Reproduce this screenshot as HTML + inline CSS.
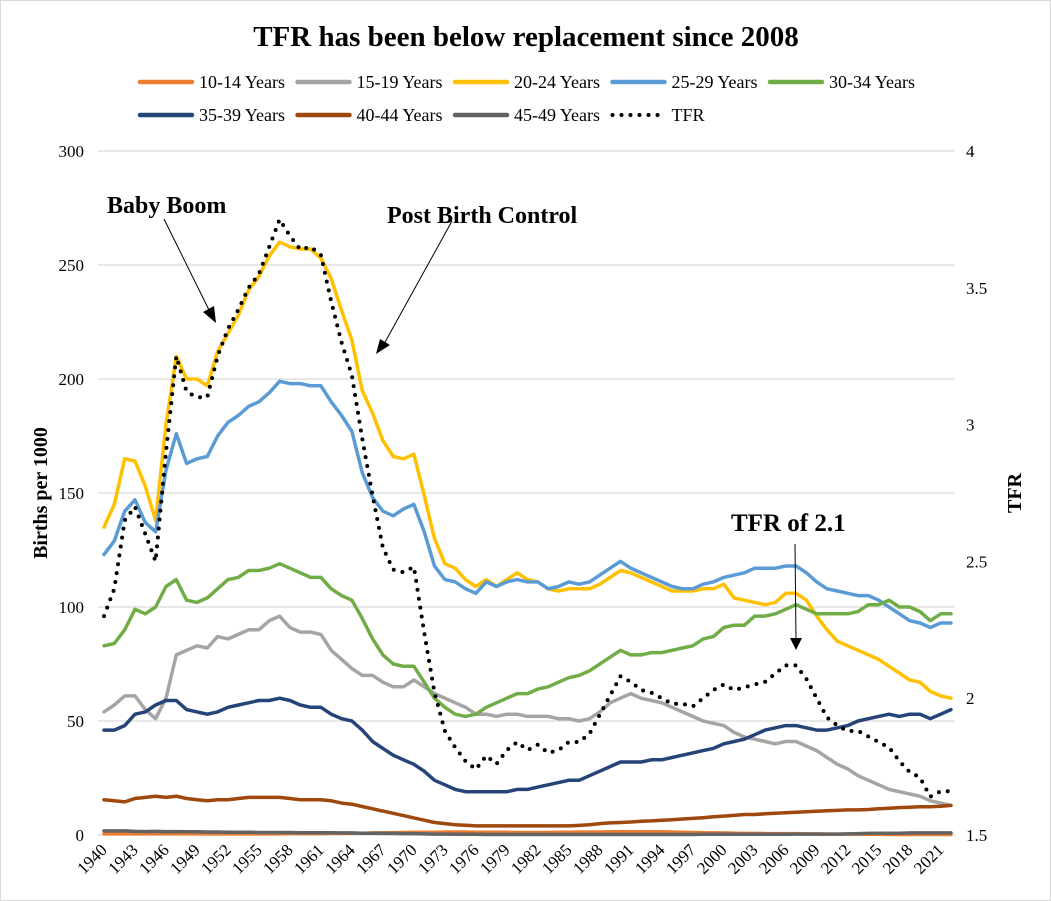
<!DOCTYPE html>
<html><head><meta charset="utf-8">
<style>
html,body{margin:0;padding:0;background:#fff;}
svg{display:block;font-family:"Liberation Serif",serif;}
</style></head>
<body>
<svg id="chart" width="1051" height="901" viewBox="0 0 1051 901">
<rect x="0.5" y="0.5" width="1050" height="900" fill="#fff" stroke="#d9d9d9"/>
<text x="526" y="46" text-anchor="middle" font-size="29" font-weight="bold">TFR has been below replacement since 2008</text>
<g id="grid"></g>
<g id="yticks"></g>
<g id="y2ticks"></g>
<g id="xticks"></g>
<g id="series"></g>
<g id="legend"></g>
<text transform="translate(47,493) rotate(-90)" text-anchor="middle" font-size="20" font-weight="bold">Births per 1000</text>
<text transform="translate(1021,493) rotate(-90)" text-anchor="middle" font-size="20" font-weight="bold">TFR</text>
<g>
<text x="107" y="213" font-size="24" font-weight="bold">Baby Boom</text>
<line x1="164" y1="219" x2="210" y2="312" stroke="#000" stroke-width="1"/>
<polygon points="216,323 203,312 214,306" fill="#000"/>
<text x="387" y="223" font-size="24" font-weight="bold">Post Birth Control</text>
<line x1="452" y1="221" x2="384" y2="344" stroke="#000" stroke-width="1"/>
<polygon points="376,354 380,339 390,345" fill="#000"/>
<text x="731" y="531" font-size="25" font-weight="bold">TFR of 2.1</text>
<line x1="795" y1="544" x2="796" y2="640" stroke="#000" stroke-width="1"/>
<polygon points="790,638 802,638 796,650" fill="#000"/>
</g>
</svg>
<script>
const years=[];for(let y=1940;y<=2022;y++)years.push(y);
const leftTicks=[0,50,100,150,200,250,300];
const rightTicks=["1.5","2","2.5","3","3.5","4"];
const s10_14=[0.5,0.5,0.5,0.5,0.5,0.5,0.5,0.5,0.5,0.5,0.5,0.5,0.5,0.5,0.5,0.5,0.5,0.5,0.6,0.6,0.6,0.6,0.7,0.7,0.8,0.8,0.9,1,1,1.1,1.2,1.2,1.2,1.3,1.3,1.3,1.2,1.2,1.2,1.2,1.1,1.1,1.1,1.1,1.2,1.2,1.3,1.3,1.3,1.4,1.4,1.4,1.4,1.4,1.4,1.3,1.2,1.1,1.0,0.9,0.9,0.8,0.7,0.7,0.6,0.6,0.6,0.6,0.5,0.5,0.4,0.4,0.4,0.3,0.3,0.3,0.2,0.2,0.2,0.2,0.2,0.2,0.2];
const s15_19=[54,57,61,61,55,51,60,79,81,83,82,87,86,88,90,90,94,96,91,89,89,88,81,77,73,70,70,67,65,65,68,65,62,60,58,56,53,53,52,53,53,52,52,52,51,51,50,51,54,58,60,62,60,59,58,56,54,52,50,49,48,45,43,42,41,40,41,41,39,37,34,31,29,26,24,22,20,19,18,17,15,14,13];
const s20_24=[135,145,165,164,153,138,180,210,200,200,197,212,220,228,239,245,254,260,258,257,257,253,244,230,217,195,185,173,166,165,167,149,130,119,117,112,109,112,109,112,115,112,111,108,107,108,108,108,110,113,116,115,113,111,109,107,107,107,108,108,110,104,103,102,101,102,106,106,103,96,90,85,83,81,79,77,74,71,68,67,63,61,60];
const s25_29=[123,129,142,147,137,133,160,176,163,165,166,175,181,184,188,190,194,199,198,198,197,197,190,184,177,159,148,142,140,143,145,133,118,112,111,108,106,111,109,111,112,111,111,108,109,111,110,111,114,117,120,117,115,113,111,109,108,108,110,111,113,114,115,117,117,117,118,118,115,111,108,107,106,105,105,103,100,97,94,93,91,93,93];
const s30_34=[83,84,90,99,97,100,109,112,103,102,104,108,112,113,116,116,117,119,117,115,113,113,108,105,103,95,86,79,75,74,74,67,60,56,53,52,53,56,58,60,62,62,64,65,67,69,70,72,75,78,81,79,79,80,80,81,82,83,86,87,91,92,92,96,96,97,99,101,99,97,97,97,97,98,101,101,103,100,100,98,94,97,97];
const s35_39=[46,46,48,53,54,57,59,59,55,54,53,54,56,57,58,59,59,60,59,57,56,56,53,51,50,46,41,38,35,33,31,28,24,22,20,19,19,19,19,19,20,20,21,22,23,24,24,26,28,30,32,32,32,33,33,34,35,36,37,38,40,41,42,44,46,47,48,48,47,46,46,47,48,50,51,52,53,52,53,53,51,53,55];
const s40_44=[15.5,15,14.5,16,16.5,17,16.5,17,16,15.5,15,15.5,15.5,16,16.5,16.5,16.5,16.5,16,15.5,15.5,15.5,15,14,13.5,12.5,11.5,10.5,9.5,8.5,7.5,6.5,5.5,5,4.5,4.3,4,4,4,4,4,4,4,4,4,4,4.2,4.5,5,5.3,5.5,5.7,6,6.2,6.5,6.7,7,7.3,7.6,8,8.3,8.6,9,9,9.3,9.5,9.8,10,10.2,10.4,10.6,10.8,11,11,11.2,11.5,11.7,12,12.2,12.4,12.4,12.6,13];
const s45_49=[1.8,1.8,1.8,1.6,1.5,1.6,1.5,1.5,1.4,1.4,1.3,1.3,1.2,1.2,1.2,1.1,1.1,1.1,1.1,1.0,1.0,1.0,1.0,0.9,0.9,0.8,0.8,0.7,0.7,0.6,0.6,0.5,0.4,0.4,0.3,0.3,0.3,0.2,0.2,0.2,0.2,0.2,0.2,0.2,0.2,0.2,0.2,0.2,0.2,0.2,0.2,0.2,0.2,0.2,0.2,0.2,0.2,0.2,0.3,0.3,0.3,0.3,0.3,0.3,0.3,0.3,0.3,0.4,0.4,0.4,0.4,0.4,0.5,0.6,0.7,0.8,0.8,0.8,0.9,0.9,0.9,0.9,0.9];
const tfr=[2.30,2.40,2.65,2.70,2.60,2.50,2.90,3.25,3.12,3.10,3.10,3.25,3.35,3.42,3.50,3.55,3.65,3.75,3.69,3.64,3.65,3.62,3.45,3.30,3.18,2.95,2.74,2.55,2.47,2.46,2.48,2.24,2.02,1.88,1.82,1.77,1.74,1.79,1.76,1.81,1.84,1.81,1.83,1.80,1.81,1.84,1.84,1.87,1.94,2.01,2.08,2.06,2.03,2.02,2.00,1.98,1.98,1.97,2.00,2.03,2.05,2.03,2.04,2.05,2.06,2.09,2.12,2.12,2.07,2.00,1.93,1.90,1.88,1.88,1.86,1.84,1.82,1.77,1.73,1.71,1.64,1.66,1.66];

const NS="http://www.w3.org/2000/svg";
const X0=104,X1=951,YT=151,YB=835;
const xs=i=>X0+(X1-X0)*i/(years.length-1);
const yL=v=>YB-(YB-YT)*v/300;
const yR=v=>YB-(YB-YT)*(v-1.5)/2.5;
function mk(tag,attrs,parent){const e=document.createElementNS(NS,tag);for(const k in attrs)e.setAttribute(k,attrs[k]);parent.appendChild(e);return e;}
const grid=document.getElementById('grid'),yt=document.getElementById('yticks'),y2=document.getElementById('y2ticks'),xt=document.getElementById('xticks'),ser=document.getElementById('series'),leg=document.getElementById('legend');
leftTicks.forEach(v=>{
  const l=mk('line',{x1:98,x2:955,y1:yL(v),y2:yL(v),stroke:'#d9d9d9','stroke-width':1.3},grid);
  
  
  const t=mk('text',{x:84,y:yL(v)+6,'text-anchor':'end','font-size':17},yt);t.textContent=v;
  
  
});
rightTicks.forEach(v=>{
  const t=mk('text',{x:966,y:yR(+v)+6,'font-size':17},y2);t.textContent=v;
  
  
});
years.forEach((yr,i)=>{
  if((yr-1940)%3!==0)return;
  const x=xs(i);
  const t=mk('text',{transform:`translate(${x+4},${851}) rotate(-45)`,'text-anchor':'end','font-size':17},xt);t.textContent=yr;
  
  
});
const defs=[
 ['10-14 Years',s10_14,'#ed7d31',false,'series-10-14'],
 ['15-19 Years',s15_19,'#a5a5a5',false,'series-15-19'],
 ['20-24 Years',s20_24,'#ffc000',false,'series-20-24'],
 ['25-29 Years',s25_29,'#5b9bd5',false,'series-25-29'],
 ['30-34 Years',s30_34,'#70ad47',false,'series-30-34'],
 ['35-39 Years',s35_39,'#264478',false,'series-35-39'],
 ['40-44 Years',s40_44,'#9e480e',false,'series-40-44'],
 ['45-49 Years',s45_49,'#636363',false,'series-45-49'],
 ['TFR',tfr,'#000',true,'series-tfr']];
defs.forEach(([name,data,col,dot,dn])=>{
  const pts=data.map((v,i)=>xs(i).toFixed(1)+','+(dot?yR(v):yL(v)).toFixed(1)).join(' ');
  const a={points:pts,fill:'none',stroke:col,'stroke-width':dot?4:3.5,'stroke-linejoin':'round','stroke-linecap':'round'};
  if(dot){a['stroke-dasharray']='0 9';}
  const p=mk('polyline',a,ser);
  
  
});
defs.forEach(([name,data,col,dot,dn],k)=>{
  const row=k<5?0:1,col_=k<5?k:k-5;
  const x=138+col_*157.5,y=row?115:82;
  const g=mk('g',{},leg);
  
  
  const la={x1:x+2,x2:x+54,y1:y,y2:y,stroke:col,'stroke-width':dot?4:4.5,'stroke-linecap':'round'};
  if(dot)la['stroke-dasharray']='0 9';
  mk('line',la,g);
  const t=mk('text',{x:x+61,y:y+6,'font-size':18},g);t.textContent=name;
});
</script>
</body></html>
